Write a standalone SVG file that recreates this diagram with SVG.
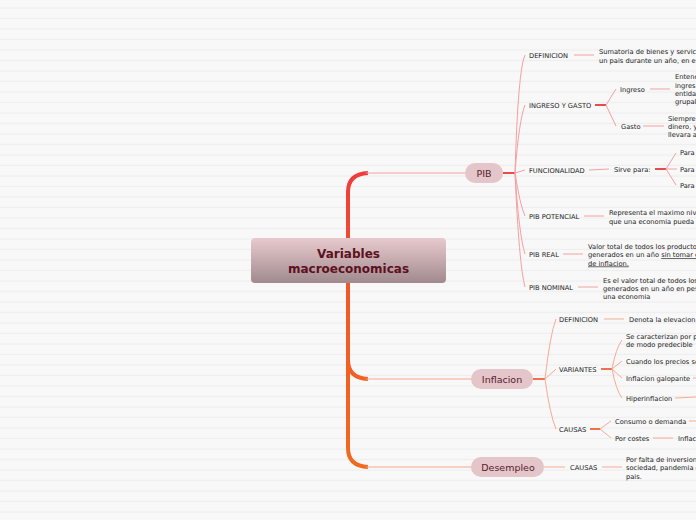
<svg xmlns="http://www.w3.org/2000/svg" width="696" height="520" viewBox="0 0 696 520">
<defs>
<pattern id="bg" width="696" height="10.5" patternUnits="userSpaceOnUse">
<rect width="696" height="10.5" fill="#f8f8f8"/>
<rect y="7.5" width="696" height="1" fill="#eeeeee"/>
</pattern>
<linearGradient id="cg" x1="0" y1="0" x2="0" y2="1">
<stop offset="0" stop-color="#e8cace"/>
<stop offset="1" stop-color="#a08a8e"/>
</linearGradient>
<linearGradient id="trunk" x1="0" y1="173" x2="0" y2="467" gradientUnits="userSpaceOnUse">
<stop offset="0" stop-color="#f03c3c"/>
<stop offset="0.45" stop-color="#f05a28"/>
<stop offset="1" stop-color="#f06a20"/>
</linearGradient>
</defs>
<style>
.t{font-family:"DejaVu Sans",Verdana,sans-serif;font-size:6.7px;fill:#222}
.n{font-family:"DejaVu Sans",Verdana,sans-serif;font-size:9.5px;fill:#5a1a2a;text-anchor:middle}
.pill{fill:#e3c5ca}
.pl{stroke:#f4a0a0;stroke-width:1;fill:none}
.ph{stroke:#ea4a4a;stroke-width:2;fill:none}
.il{stroke:#f5ac94;stroke-width:1;fill:none}
.ih{stroke:#f07050;stroke-width:2;fill:none}
</style>
<rect width="696" height="520" fill="url(#bg)"/>

<g id="connectors">
<path d="M348 238 V192 Q348 174 368 173" stroke="url(#trunk)" stroke-width="4" fill="none"/>
<path d="M348 283 V360 Q348 378 368 379" stroke="url(#trunk)" stroke-width="4" fill="none"/>
<path d="M348 360 V448 Q348 466 368 467" stroke="url(#trunk)" stroke-width="4" fill="none"/>
<line x1="366" y1="173" x2="466" y2="173" stroke="#f4a0a0" stroke-width="1.2"/>
<line x1="366" y1="379" x2="472" y2="379" stroke="#f5a888" stroke-width="1.2"/>
<line x1="366" y1="467" x2="472" y2="467" stroke="#f5a888" stroke-width="1.2"/>

<line class="ph" x1="503" y1="173" x2="515" y2="173"/>
<path class="pl" d="M515 173 Q518 70 525 55"/>
<path class="pl" d="M515 173 Q519 120 525 105"/>
<path class="pl" d="M515 173 L525 170"/>
<path class="pl" d="M515 173 Q520 205 525 216"/>
<path class="pl" d="M515 173 Q519 235 525 254"/>
<path class="pl" d="M515 173 Q519 265 525 287"/>
<line class="pl" x1="574" y1="55" x2="594" y2="55"/>
<line class="ph" x1="595" y1="105" x2="606" y2="105"/>
<path class="pl" d="M606 105 L616 89"/>
<path class="pl" d="M606 105 L616 126"/>
<line class="pl" x1="650" y1="89" x2="670" y2="89"/>
<line class="pl" x1="643" y1="126" x2="664" y2="126"/>
<line class="pl" x1="589" y1="170" x2="609" y2="169"/>
<line class="ph" x1="655" y1="169" x2="666" y2="169"/>
<path class="pl" d="M666 169 L676 153"/>
<path class="pl" d="M666 169 L677 169"/>
<path class="pl" d="M666 169 L676 185"/>
<line class="pl" x1="584" y1="216" x2="604" y2="216"/>
<line class="pl" x1="563" y1="254" x2="583" y2="254"/>
<line class="pl" x1="578" y1="287" x2="598" y2="287"/>

<line class="ih" x1="533" y1="379" x2="545" y2="379"/>
<path class="il" d="M545 379 Q550 335 556 319"/>
<path class="il" d="M545 379 L556 369"/>
<path class="il" d="M545 379 Q550 415 556 429"/>
<line class="il" x1="604" y1="319" x2="624" y2="319"/>
<line class="ih" x1="601" y1="369" x2="612" y2="369"/>
<path class="il" d="M612 369 Q616 348 622 340"/>
<path class="il" d="M612 369 L622 361"/>
<path class="il" d="M612 369 L622 378"/>
<path class="il" d="M612 369 Q616 390 622 398"/>
<line class="il" x1="693" y1="378" x2="700" y2="378"/>
<line class="il" x1="675" y1="398" x2="696" y2="397"/>
<line class="ih" x1="590" y1="429" x2="600" y2="429"/>
<path class="il" d="M600 429 L611 421"/>
<path class="il" d="M600 429 L611 438"/>
<line class="il" x1="689" y1="421" x2="696" y2="421"/>
<line class="il" x1="653" y1="438" x2="673" y2="438"/>

<line class="il" x1="544" y1="467" x2="565" y2="467"/>
<line class="il" x1="602" y1="467" x2="622" y2="467"/>
</g>

<g id="central">
<rect x="251" y="238" width="195" height="45" rx="4" fill="url(#cg)"/>
<text x="348.5" y="257.5" text-anchor="middle" font-family="'DejaVu Sans',Verdana,sans-serif" font-weight="bold" font-size="12" fill="#5c1020">Variables</text>
<text x="348.5" y="272.5" text-anchor="middle" font-family="'DejaVu Sans',Verdana,sans-serif" font-weight="bold" font-size="12" fill="#5c1020">macroeconomicas</text>
</g>

<g id="pib">
<rect class="pill" x="465" y="163" width="38" height="20" rx="10"/>
<text class="n" x="484" y="176.5">PIB</text>
</g>
<g id="inflacion">
<rect class="pill" x="471" y="369" width="62" height="20" rx="10"/>
<text class="n" x="502" y="382.5">Inflacion</text>
</g>
<g id="desempleo">
<rect class="pill" x="471" y="457" width="73" height="20" rx="10"/>
<text class="n" x="508" y="470.5">Desempleo</text>
</g>

<g id="pib-definicion">
<text class="t" x="529" y="57.5">DEFINICION</text>
<text class="t" x="599" y="53.5">Sumatoria de bienes y servicios</text>
<text class="t" x="599" y="62.5">un pais durante un año, en es</text>
</g>
<g id="pib-ingreso-gasto">
<text class="t" x="529" y="107.5">INGRESO Y GASTO</text>
<text class="t" x="620" y="91.5">Ingreso</text>
<text class="t" x="675" y="78.5">Entenc</text>
<text class="t" x="675" y="87.5">ingres</text>
<text class="t" x="675" y="95.5">entidad</text>
<text class="t" x="675" y="103.5">grupal</text>
<text class="t" x="621" y="128.5">Gasto</text>
<text class="t" x="668" y="120.5">Siempre</text>
<text class="t" x="668" y="128.5">dinero, y</text>
<text class="t" x="668" y="136.5">llevara a</text>
</g>
<g id="pib-funcionalidad">
<text class="t" x="529" y="172.5">FUNCIONALIDAD</text>
<text class="t" x="614" y="171.5">Sirve para:</text>
<text class="t" x="680" y="155">Para</text>
<text class="t" x="680" y="171.5">Para</text>
<text class="t" x="680" y="187.5">Para</text>
</g>
<g id="pib-potencial">
<text class="t" x="529" y="218.5">PIB POTENCIAL</text>
<text class="t" x="609" y="214.5">Representa el maximo nivel</text>
<text class="t" x="609" y="223.5">que una economia pueda t</text>
</g>
<g id="pib-real">
<text class="t" x="529" y="256.5">PIB REAL</text>
<text class="t" x="588" y="248.5">Valor total de todos los productos</text>
<text class="t" x="588" y="257">generados en un año <tspan text-decoration="underline">sin tomar e</tspan></text>
<text class="t" x="588" y="265.5" text-decoration="underline">de inflacion.</text>
</g>
<g id="pib-nominal">
<text class="t" x="529" y="289.5">PIB NOMINAL</text>
<text class="t" x="603" y="282.5">Es el valor total de todos los</text>
<text class="t" x="603" y="290.5">generados en un año en pese</text>
<text class="t" x="603" y="298.5">una economia</text>
</g>

<g id="inf-definicion">
<text class="t" x="559" y="321.5">DEFINICION</text>
<text class="t" x="629" y="321.5">Denota la elevacion d</text>
</g>
<g id="inf-variantes">
<text class="t" x="559" y="371.5">VARIANTES</text>
<text class="t" x="626" y="338.5">Se caracterizan por p</text>
<text class="t" x="626" y="346.5">de modo predecible</text>
<text class="t" x="626" y="363.5">Cuando los precios so</text>
<text class="t" x="626" y="380.5">Inflacion galopante</text>
<text class="t" x="626" y="400.5">Hiperinflacion</text>
</g>
<g id="inf-causas">
<text class="t" x="559" y="431.5">CAUSAS</text>
<text class="t" x="615" y="423.5">Consumo o demanda</text>
<text class="t" x="615" y="440.5">Por costes</text>
<text class="t" x="678" y="440.5">Inflaci</text>
</g>
<g id="des-causas">
<text class="t" x="570" y="469.5">CAUSAS</text>
<text class="t" x="626" y="461.5">Por falta de inversione</text>
<text class="t" x="626" y="470">sociedad, pandemia c</text>
<text class="t" x="626" y="478.5">pais.</text>
</g>
</svg>
